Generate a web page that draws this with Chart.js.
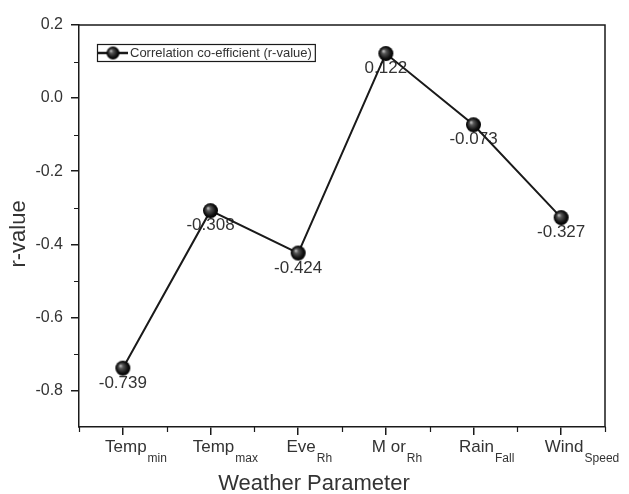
<!DOCTYPE html>
<html>
<head>
<meta charset="utf-8">
<script src="https://cdn.jsdelivr.net/npm/chart.js@4"></script>
<style>
  html, body { margin: 0; padding: 0; background: #fff; }
  canvas { display: block; }
</style>
</head>
<body>
<canvas id="chart" width="629" height="494"></canvas>
<script>
// ── Data ─────────────────────────────────────────────────────────────────
const PARAMS      = ["Temp", "Temp", "Eve", "M or", "Rain", "Wind"];
const PARAM_SUBS  = ["min", "max", "Rh", "Rh", "Fall", "Speed"];
const R_VALUES    = [-0.739, -0.308, -0.424, 0.122, -0.073, -0.327];
const R_LABELS    = ["-0.739", "-0.308", "-0.424", "0.122", "-0.073", "-0.327"];
const Y_TICKS     = [-0.8, -0.6, -0.4, -0.2, 0.0, 0.2];
const Y_MINOR     = [-0.7, -0.5, -0.3, -0.1, 0.1];
const SERIES_NAME = "Correlation co-efficient (r-value)";
const X_TITLE     = "Weather Parameter";
const Y_TITLE     = "r-value";

// ── Style tokens ──────────────────────────────────────────────────────────
const INK   = "#1a1a1a";
const TEXT  = "#333333";
const FONT  = "'Liberation Sans', Arial, sans-serif";

Chart.defaults.font.family = FONT;
Chart.defaults.color = TEXT;

// shaded black ball used as the point marker
function makeSphere(r) {
  const c = document.createElement("canvas");
  const s = r * 2 + 2;
  c.width = c.height = s;
  const g = c.getContext("2d");
  const m = s / 2;
  const grad = g.createRadialGradient(m - r * 0.35, m - r * 0.35, 0, m, m, r);
  grad.addColorStop(0, "#d0d0d0");
  grad.addColorStop(0.3, "#555");
  grad.addColorStop(0.75, "#111");
  grad.addColorStop(1, "#000");
  g.fillStyle = grad;
  g.beginPath();
  g.arc(m, m, r, 0, Math.PI * 2);
  g.fill();
  return c;
}
const BALL = makeSphere(7.5);
const BALL_SMALL = makeSphere(6.5);

// ── Plugin: frame, minor ticks, sub-scripted x labels, titles, legend, value labels ──
const decor = {
  id: "decor",
  beforeDatasetsDraw(chart) {
    const ctx = chart.ctx;
    const meta = chart.getDatasetMeta(0);
    ctx.save();
    ctx.font = "17px " + FONT;
    ctx.fillStyle = TEXT;
    ctx.textAlign = "center";
    ctx.textBaseline = "middle";
    meta.data.forEach((pt, i) => {
      ctx.fillText(R_LABELS[i], pt.x, pt.y + 15);
    });
    ctx.restore();
  },
  afterDraw(chart) {
    const ctx = chart.ctx;
    const a = chart.chartArea;
    const xs = chart.scales.x;
    const ys = chart.scales.y;
    ctx.save();

    // top and right frame
    ctx.strokeStyle = INK;
    ctx.lineWidth = 1.5;
    ctx.beginPath();
    ctx.moveTo(a.left, a.top);
    ctx.lineTo(a.right, a.top);
    ctx.lineTo(a.right, a.bottom);
    ctx.stroke();

    // minor ticks
    ctx.lineWidth = 1.2;
    ctx.beginPath();
    Y_MINOR.forEach(v => {
      const y = Math.round(ys.getPixelForValue(v)) + 0.5;
      ctx.moveTo(a.left - 5, y);
      ctx.lineTo(a.left, y);
    });
    for (let i = 0; i <= PARAMS.length; i++) {
      const x = Math.round(xs.getPixelForValue(i - 0.5)) + 0.5;
      ctx.moveTo(x, a.bottom);
      ctx.lineTo(x, a.bottom + 5);
    }
    ctx.stroke();

    // x labels with subscripts
    ctx.fillStyle = TEXT;
    ctx.textBaseline = "alphabetic";
    PARAMS.forEach((p, i) => {
      const cx = xs.getPixelForValue(i) + 3;
      ctx.font = "17px " + FONT;
      const w = ctx.measureText(p).width;
      ctx.textAlign = "center";
      ctx.fillText(p, cx, a.bottom + 25);
      ctx.font = "12px " + FONT;
      ctx.textAlign = "left";
      ctx.fillText(PARAM_SUBS[i], cx + w / 2 + 1, a.bottom + 35);
    });

    // axis titles
    ctx.font = "22px " + FONT;
    ctx.textAlign = "center";
    ctx.textBaseline = "middle";
    ctx.fillText(X_TITLE, (a.left + a.right) / 2 - 28, a.bottom + 57);
    ctx.save();
    ctx.translate(19, (a.top + a.bottom) / 2 + 8);
    ctx.rotate(-Math.PI / 2);
    ctx.fillText(Y_TITLE, 0, 0);
    ctx.restore();

    // legend box inside the plot
    const lx = a.left + 18, ly = a.top + 19;
    ctx.font = "13px " + FONT;
    const tw = ctx.measureText(SERIES_NAME).width;
    const bw = 33 + tw + 3, bh = 17;
    ctx.fillStyle = "#fff";
    ctx.fillRect(lx, ly, bw, bh);
    ctx.strokeStyle = INK;
    ctx.lineWidth = 1.2;
    ctx.strokeRect(lx + 0.5, ly + 0.5, bw, bh);
    ctx.lineWidth = 2.5;
    ctx.beginPath();
    ctx.moveTo(lx + 1, ly + bh / 2 + 0.5);
    ctx.lineTo(lx + 31, ly + bh / 2 + 0.5);
    ctx.stroke();
    ctx.drawImage(BALL_SMALL, lx + 16 - BALL_SMALL.width / 2, ly + bh / 2 + 0.5 - BALL_SMALL.height / 2);
    ctx.fillStyle = TEXT;
    ctx.textAlign = "left";
    ctx.textBaseline = "middle";
    ctx.fillText(SERIES_NAME, lx + 33, ly + bh / 2 + 1);

    ctx.restore();
  }
};

new Chart(document.getElementById("chart"), {
  type: "line",
  data: {
    labels: PARAMS.map((p, i) => p + PARAM_SUBS[i]),
    datasets: [{
      label: SERIES_NAME,
      data: R_VALUES,
      borderColor: INK,
      borderWidth: 2,
      tension: 0,
      pointStyle: BALL,
      pointRadius: 7.5,
      pointHoverRadius: 7.5,
    }],
  },
  options: {
    responsive: false,
    animation: false,
    layout: { padding: { top: 25, right: 24, left: 0, bottom: 0 } },
    plugins: {
      legend: { display: false },
      tooltip: { enabled: false },
    },
    scales: {
      x: {
        type: "category",
        offset: true,
        grid: { offset: false, drawOnChartArea: false, tickLength: 8, color: INK, lineWidth: 1.5 },
        border: { color: INK, width: 1.5 },
        ticks: { display: false },
        afterFit: (s) => { s.height = 67; },
      },
      y: {
        min: -0.9,
        max: 0.2,
        afterBuildTicks: (s) => { s.ticks = Y_TICKS.map(v => ({ value: v })); },
        grid: { drawOnChartArea: false, tickLength: 8, color: INK, lineWidth: 1.5 },
        border: { color: INK, width: 1.5 },
        ticks: {
          padding: 8,
          color: TEXT,
          font: { size: 16 },
          callback: (v) => Number(v).toFixed(1),
        },
        afterFit: (s) => { s.width = 79; },
      },
    },
  },
  plugins: [decor],
});
</script>
</body>
</html>
